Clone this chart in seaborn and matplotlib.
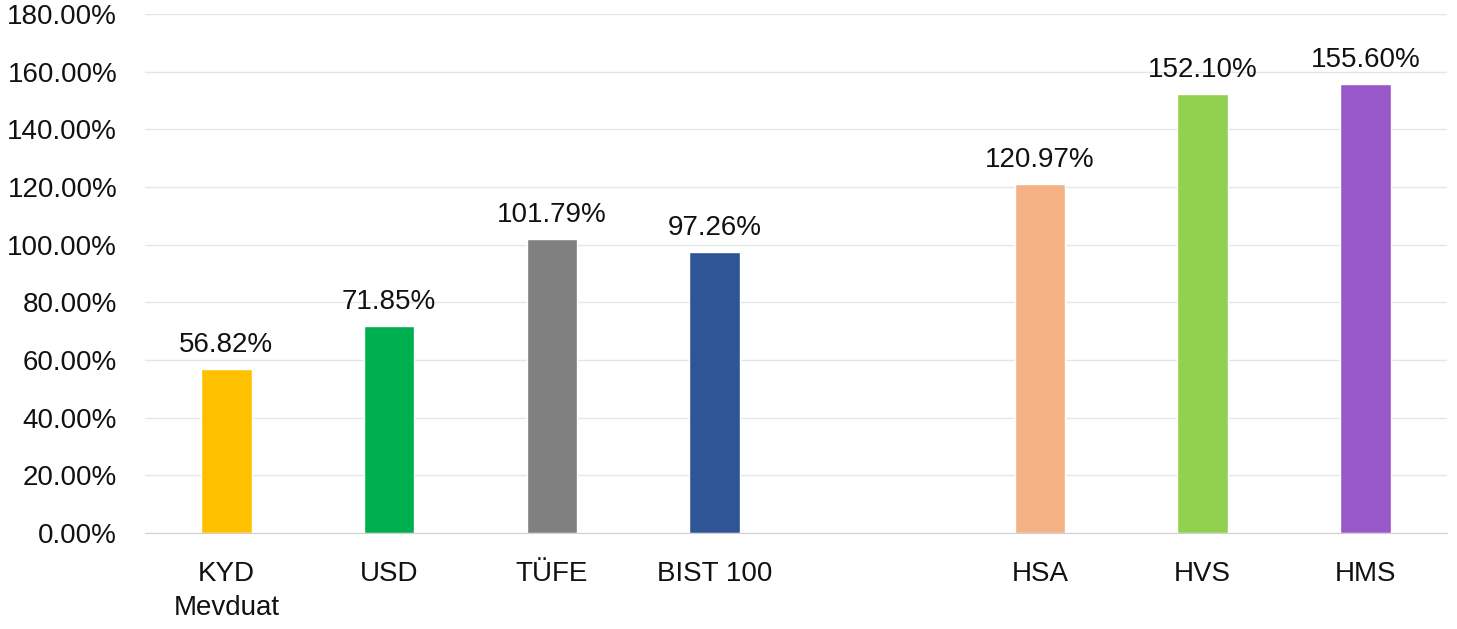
import numpy as np
import pandas as pd
import matplotlib
matplotlib.use("Agg")
import matplotlib.pyplot as plt
import seaborn as sns

# chart values
categories = ["KYD\nMevduat", "USD", "TÜFE", "BIST 100", "HSA", "HVS", "HMS"]
returns = [56.82, 71.85, 101.79, 97.26, 120.97, 152.10, 155.60]
colors = ["#FFC000", "#00B050", "#808080", "#2F5597", "#F4B183", "#92D050", "#9958C8"]
# empty slot between BIST 100 and HSA
order = ["KYD\nMevduat", "USD", "TÜFE", "BIST 100", " ", "HSA", "HVS", "HMS"]
yticks = np.arange(0, 181, 20)

sns.set_style("white")
plt.rcParams["font.family"] = ["Liberation Sans", "DejaVu Sans"]

df = pd.DataFrame({"cat": categories, "val": returns})

fig = plt.figure(figsize=(14.57, 6.29), dpi=100)
ax = fig.add_axes([0.0995, 0.1526, 0.8935, 0.8254])

sns.barplot(data=df, x="cat", y="val", hue="cat", order=order,
            palette=dict(zip(categories, colors)), width=0.31,
            legend=False, ax=ax, saturation=1)

for c in ax.containers:
    ax.bar_label(c, fmt="%.2f%%", padding=8, fontsize=20, color="#111111")

ax.set_ylim(0, 180)
ax.set_yticks(yticks)
ax.set_yticklabels([f"{v:.2f}%" for v in yticks])
ax.set_xlim(-0.5, len(order) - 0.5)
ax.yaxis.grid(True, color="#E6E6E6", linewidth=1)
ax.set_axisbelow(True)
ax.set_xlabel("")
ax.set_ylabel("")
for s in ["top", "right", "left"]:
    ax.spines[s].set_visible(False)
ax.spines["bottom"].set_color("#D0D0D0")
ax.tick_params(axis="both", labelsize=20, colors="#111111", length=0)
ax.tick_params(axis="x", pad=20)
ax.tick_params(axis="y", pad=20)
for lbl in ax.get_xticklabels():
    lbl.set_linespacing(1.4)

fig.savefig("out.png", dpi=100)
